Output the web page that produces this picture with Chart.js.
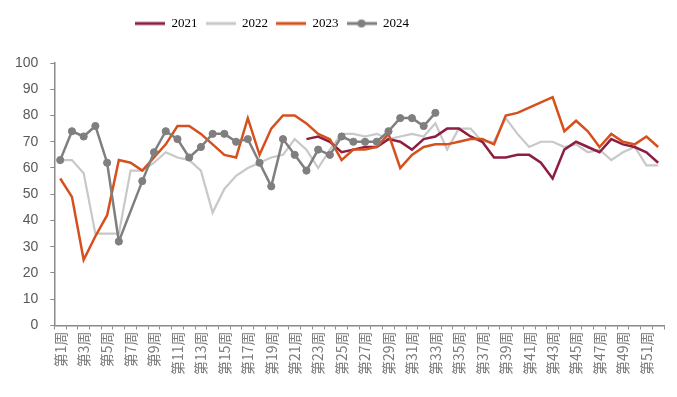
<!DOCTYPE html>
<html>
<head>
<meta charset="utf-8">
<script src="https://cdn.jsdelivr.net/npm/chart.js@4.4.1/dist/chart.umd.min.js"></script>
<style>
  html, body { margin: 0; padding: 0; background: #fff; }
  #content { width: 677px; height: 397px; position: relative; }
</style>
</head>
<body>
<div id="content"><canvas id="chartCanvas"></canvas></div>
<script>
// weekly index, 2021-2024
const weekLabels = [
    '第1周', '第2周', '第3周', '第4周', '第5周', '第6周', '第7周', '第8周', '第9周', '第10周',
    '第11周', '第12周', '第13周', '第14周', '第15周', '第16周', '第17周', '第18周', '第19周', '第20周',
    '第21周', '第22周', '第23周', '第24周', '第25周', '第26周', '第27周', '第28周', '第29周', '第30周',
    '第31周', '第32周', '第33周', '第34周', '第35周', '第36周', '第37周', '第38周', '第39周', '第40周',
    '第41周', '第42周', '第43周', '第44周', '第45周', '第46周', '第47周', '第48周', '第49周', '第50周',
    '第51周', '第52周'
];

const seriesNames = ['2021', '2022', '2023', '2024'];

const values2021 = [
    null, null, null, null, null, null, null, null, null, null,
    null, null, null, null, null, null, null, null, null, null,
    null, 71, 72, 70, 66, 67, 68, 68, 71, 70,
    67, 71, 72, 75, 75, 72, 70, 64, 64, 65,
    65, 62, 56, 67, 70, 68, 66, 71, 69, 68,
    66, 62
];

const values2022 = [
    63, 63, 58, 35, 35, 35, 59, 59, 62, 66,
    64, 63, 59, 43, 52, 57, 60, 62, 64, 65,
    71, 67, 60, 67, 73, 73, 72, 73, 71, 72,
    73, 72, 77, 67, 75, 75, 70, 70, 79, 73,
    68, 70, 70, 68, 69, 66, 67, 63, 66, 68,
    61, 61
];

const values2023 = [
    56, 49, 25, 34, 42, 63, 62, 59, 64, 69,
    76, 76, 73, 69, 65, 64, 79, 65, 75, 80,
    80, 77, 73, 71, 63, 67, 67, 68, 73, 60,
    65, 68, 69, 69, 70, 71, 71, 69, 80, 81,
    83, 85, 87, 74, 78, 74, 68, 73, 70, 69,
    72, 68
];

// 2024 has no reading for week 7
const values2024 = [
    63, 74, 72, 76, 62, 32, null, 55, 66, 74,
    71, 64, 68, 73, 73, 70, 71, 62, 53, 71,
    65, 59, 67, 65, 72, 70, 70, 70, 74, 79,
    79, 76, 81
];

const yTicks = [0, 10, 20, 30, 40, 50, 60, 70, 80, 90, 100];

const colors = ['#8c1f40', '#c8c8c8', '#d6501e', '#7f7f7f'];

// small legend swatches: plain line, or line with a dot for 2024
function makeSwatch(color, lineWidth, withDot) {
    const c = document.createElement('canvas');
    c.width = 30;
    c.height = 10;
    const g = c.getContext('2d');
    g.strokeStyle = color;
    g.lineWidth = lineWidth;
    g.beginPath();
    g.moveTo(0, 5);
    g.lineTo(30, 5);
    g.stroke();
    if (withDot) {
        g.fillStyle = color;
        g.beginPath();
        g.arc(15, 5, 4, 0, Math.PI * 2);
        g.fill();
    }
    return c;
}

const swatches = [
    makeSwatch(colors[0], 3, false),
    makeSwatch(colors[1], 3, false),
    makeSwatch(colors[2], 3, false),
    makeSwatch(colors[3], 3, true)
];

const allValues = [values2021, values2022, values2023, values2024];

const chartData = {
    labels: weekLabels,
    datasets: allValues.map((vals, i) => ({
        label: seriesNames[i],
        data: vals,
        borderColor: colors[i],
        backgroundColor: colors[i],
        borderWidth: i === 1 ? 2.2 : 2.5,
        tension: 0,
        pointRadius: i === 3 ? 3.6 : 0,
        pointHoverRadius: i === 3 ? 3.6 : 0,
        pointBorderWidth: 1,
        pointBackgroundColor: colors[i],
        pointBorderColor: colors[i],
        spanGaps: i === 3,
        order: [2, 3, 1, 0][i]
    }))
};

// extra room under the legend, and legend nudged left of centre
const legendPlacement = {
    id: 'legendPlacement',
    beforeInit(chart) {
        const fit = chart.legend.fit;
        chart.legend.fit = function () {
            fit.bind(chart.legend)();
            this.height += 23;
        };
    },
    afterLayout(chart) {
        chart.legend.left -= 67;
        chart.legend.right -= 67;
    }
};

const canvas = document.getElementById('chartCanvas');
const ctx = canvas.getContext('2d');

new Chart(ctx, {
    type: 'line',
    data: chartData,
    plugins: [legendPlacement],
    options: {
        responsive: true,
        maintainAspectRatio: false,
        animation: false,
        layout: {
            padding: { left: 3, right: 2, top: 9, bottom: 20 }
        },
        plugins: {
            legend: {
                position: 'top',
                align: 'center',
                labels: {
                    usePointStyle: true,
                    pointStyleWidth: 30,
                    padding: 8,
                    color: '#333',
                    font: { family: 'Liberation Serif', size: 13 },
                    generateLabels: (chart) => chart.data.datasets.map((ds, i) => ({
                        text: ds.label,
                        pointStyle: swatches[i],
                        fillStyle: colors[i],
                        strokeStyle: colors[i],
                        lineWidth: 0,
                        hidden: false,
                        datasetIndex: i
                    }))
                }
            },
            tooltip: { enabled: false }
        },
        scales: {
            x: {
                type: 'category',
                offset: true,
                ticks: {
                    autoSkip: false,
                    maxRotation: 90,
                    minRotation: 90,
                    padding: 2,
                    color: '#7a7a7a',
                    font: { family: 'Noto Sans CJK SC', size: 14 },
                    callback: (v, i) => (i % 2 === 0 ? weekLabels[i] : '')
                },
                grid: {
                    drawOnChartArea: false,
                    drawTicks: true,
                    tickLength: 4,
                    color: '#8a8a8a',
                    offset: true
                },
                border: { color: '#8a8a8a', width: 1.5 }
            },
            y: {
                min: yTicks[0],
                max: yTicks[yTicks.length - 1],
                afterBuildTicks: (axis) => {
                    axis.ticks = yTicks.map((v) => ({ value: v }));
                },
                ticks: {
                    padding: 12,
                    color: '#595959',
                    font: { family: 'Liberation Sans', size: 14 }
                },
                grid: {
                    drawOnChartArea: false,
                    drawTicks: true,
                    tickLength: 4,
                    color: '#8a8a8a'
                },
                border: { color: '#8a8a8a', width: 1.5 }
            }
        }
    }
});
</script>
</body>
</html>
